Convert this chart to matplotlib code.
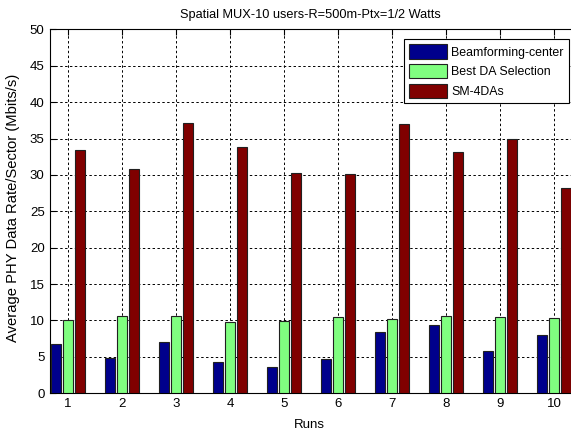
import numpy as np
import matplotlib.pyplot as plt

plt.rcParams['font.family'] = ['Liberation Sans', 'DejaVu Sans']

runs = np.arange(1, 11)
beamforming = [6.8, 4.9, 7.05, 4.3, 3.65, 4.75, 8.4, 9.35, 5.8, 8.05]
best_da = [10.0, 10.65, 10.65, 9.85, 9.95, 10.5, 10.2, 10.65, 10.5, 10.3]
sm_4das = [33.4, 30.8, 37.1, 33.8, 30.3, 30.1, 37.0, 33.2, 34.9, 28.2]

labels = ['Beamforming-center', 'Best DA Selection', 'SM-4DAs']
colors = ['#00008c', '#80ff80', '#800000']

fig = plt.figure(figsize=(5.71, 4.33), dpi=100)
ax = fig.add_axes([0.0867, 0.0917, 0.931, 0.8406])

step = 0.222
w = 0.178
for k, (vals, c, lab) in enumerate(zip([beamforming, best_da, sm_4das], colors, labels)):
    ax.bar(runs + (k - 1) * step, vals, width=w, color=c, edgecolor='#202020',
           linewidth=0.8, label=lab, zorder=3)

ax.set_xlim(0.66, 10.5)
ax.set_ylim(0, 50)
ax.set_xticks(runs)
ax.set_yticks(np.arange(0, 51, 5))
ax.tick_params(direction='in', top=True, right=True, labelsize=9.5, length=4)
ax.grid(True, color='black', linestyle=(0, (2.5, 2.5)), linewidth=0.7, zorder=0)
ax.set_axisbelow(True)

# title and x label centred on the visible part of the axes
ax.set_title('Spatial MUX-10 users-R=500m-Ptx=1/2 Watts', fontsize=9.2,
             x=0.49, pad=8)
ax.set_xlabel('Runs', fontsize=9.5)
ax.xaxis.set_label_coords(0.488, -0.07)
ax.set_ylabel('Average PHY Data Rate/Sector (Mbits/s)', fontsize=10.6)
ax.yaxis.set_label_coords(-0.055, 0.51)

leg = ax.legend(loc='upper left', bbox_to_anchor=(0.667, 0.9725), fontsize=8.9,
                handlelength=3.1, handleheight=1.4, borderaxespad=0,
                fancybox=False, framealpha=1, edgecolor='black',
                labelspacing=0.45, handletextpad=0.3, borderpad=0.4)
leg.get_frame().set_linewidth(0.8)

fig.savefig('out.png', dpi=100)
